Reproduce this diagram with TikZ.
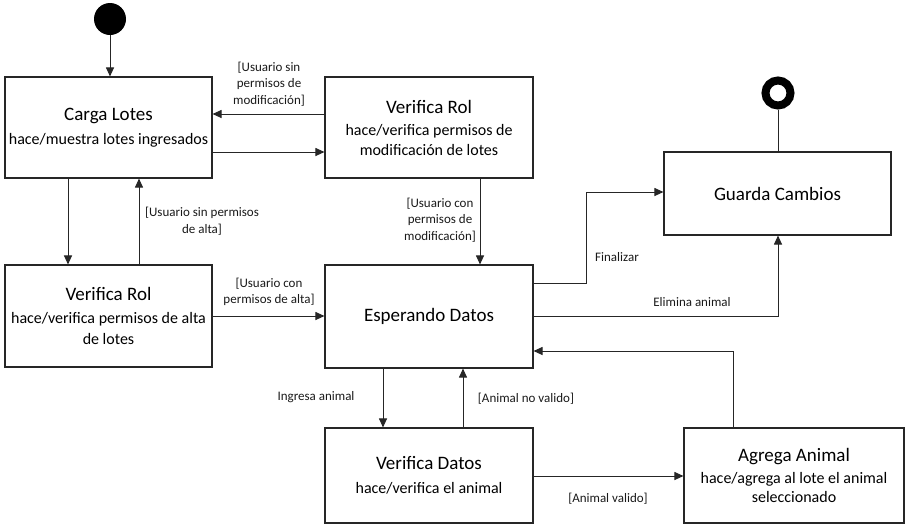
\documentclass[tikz,border=0pt]{standalone}
\usepackage{fontspec}
\setmainfont{Carlito}
\usetikzlibrary{arrows.meta}
\newcommand\ttltxt{\fontsize{19}{23}\selectfont}
\newcommand\subtxt{\fontsize{16}{19.5}\selectfont}
\begin{document}
\begin{tikzpicture}[x=1pt,y=-1pt,
  state/.style={draw=black!85, line width=1.1pt, fill=white, align=center, inner sep=0pt, font=\subtxt},
  lbl/.style={font=\fontsize{13}{16.5}\selectfont, align=center, inner sep=0pt, text=black!90},
  arr/.style={-{Triangle[length=9pt,width=8pt]}, line width=1pt, draw=black!85},
  ln/.style={line width=1pt, draw=black!85}]
\useasboundingbox (0,0) rectangle (910,531);

% states
\node[state, minimum width=207pt, minimum height=101pt] (cl) at (108.5,127.5)
  {{\ttltxt Carga Lotes}\\[4pt]hace/muestra lotes ingresados};
\node[state, minimum width=208pt, minimum height=101pt] (vr1) at (429,127.5)
  {{\ttltxt Verifica Rol}\\[3pt]hace/verifica permisos de\\modificación de lotes};
\node[state, minimum width=207pt, minimum height=102pt] (vr2) at (108.5,316)
  {{\ttltxt Verifica Rol}\\[3pt]hace/verifica permisos de alta\\[2pt]de lotes};
\node[state, minimum width=208pt, minimum height=103pt] (ed) at (429,316.5)
  {\ttltxt Esperando Datos};
\node[state, minimum width=208pt, minimum height=95pt] (vd) at (429,475.5)
  {{\ttltxt Verifica Datos}\\[4pt]hace/verifica el animal};
\node[state, minimum width=220pt, minimum height=95pt] (aa) at (794,475.5)
  {{\ttltxt Agrega Animal}\\[2pt]hace/agrega al lote el animal\\seleccionado};
\node[state, minimum width=227pt, minimum height=83pt] (gc) at (777.5,193.5)
  {\ttltxt Guarda Cambios};

% initial and final
\node[circle, fill=black, minimum size=32pt, inner sep=0pt] (start) at (110,19) {};
\node[circle, draw=black, line width=8pt, fill=white, minimum size=25pt, inner sep=0pt] (end) at (778,93) {};

% transitions
\draw[arr] (start.south) -- (start.south |- cl.north);
\draw[arr] (vr1.west |- 0,114) -- (cl.east |- 0,114);
\draw[arr] (cl.east |- 0,152) -- (vr1.west |- 0,152);
\draw[arr] (cl.south -| 68,0) -- (vr2.north -| 68,0);
\draw[arr] (vr2.north -| 139,0) -- (cl.south -| 139,0);
\draw[arr] (vr1.south -| 480,0) -- (ed.north -| 480,0);
\draw[arr] (vr2.east |- 0,316) -- (ed.west |- 0,316);
\draw[arr] (ed.east |- 0,283) -- (586,283) -- (586,192) -- (gc.west |- 0,192);
\draw[arr] (ed.east |- 0,316) -| (gc.south -| 778,0);
\draw[arr] (aa.north -| 733,0) |- (ed.east |- 0,351);
\draw[arr] (ed.south -| 383,0) -- (vd.north -| 383,0);
\draw[arr] (vd.north -| 463,0) -- (ed.south -| 463,0);
\draw[arr] (vd.east |- 0,476) -- (aa.west |- 0,476);
\draw[ln] (gc.north -| end.south) -- (end.south);

% labels
\node[lbl] (l1) at (269,84) {[Usuario sin\\permisos de\\modificación]};
\node[lbl] (l2) at (202,221) {[Usuario sin permisos\\de alta]};
\node[lbl] (l3) at (440,220) {[Usuario con\\permisos de\\modificación]};
\node[lbl] (l4) at (269,292) {[Usuario con\\permisos de alta]};
\node[lbl] (l5) at (617,257) {Finalizar};
\node[lbl] (l6) at (692,302) {Elimina animal};
\node[lbl] (l7) at (316,397) {Ingresa animal};
\node[lbl] (l8) at (526,399) {[Animal no valido]};
\node[lbl] (l9) at (608,499) {[Animal valido]};
\end{tikzpicture}
\end{document}
